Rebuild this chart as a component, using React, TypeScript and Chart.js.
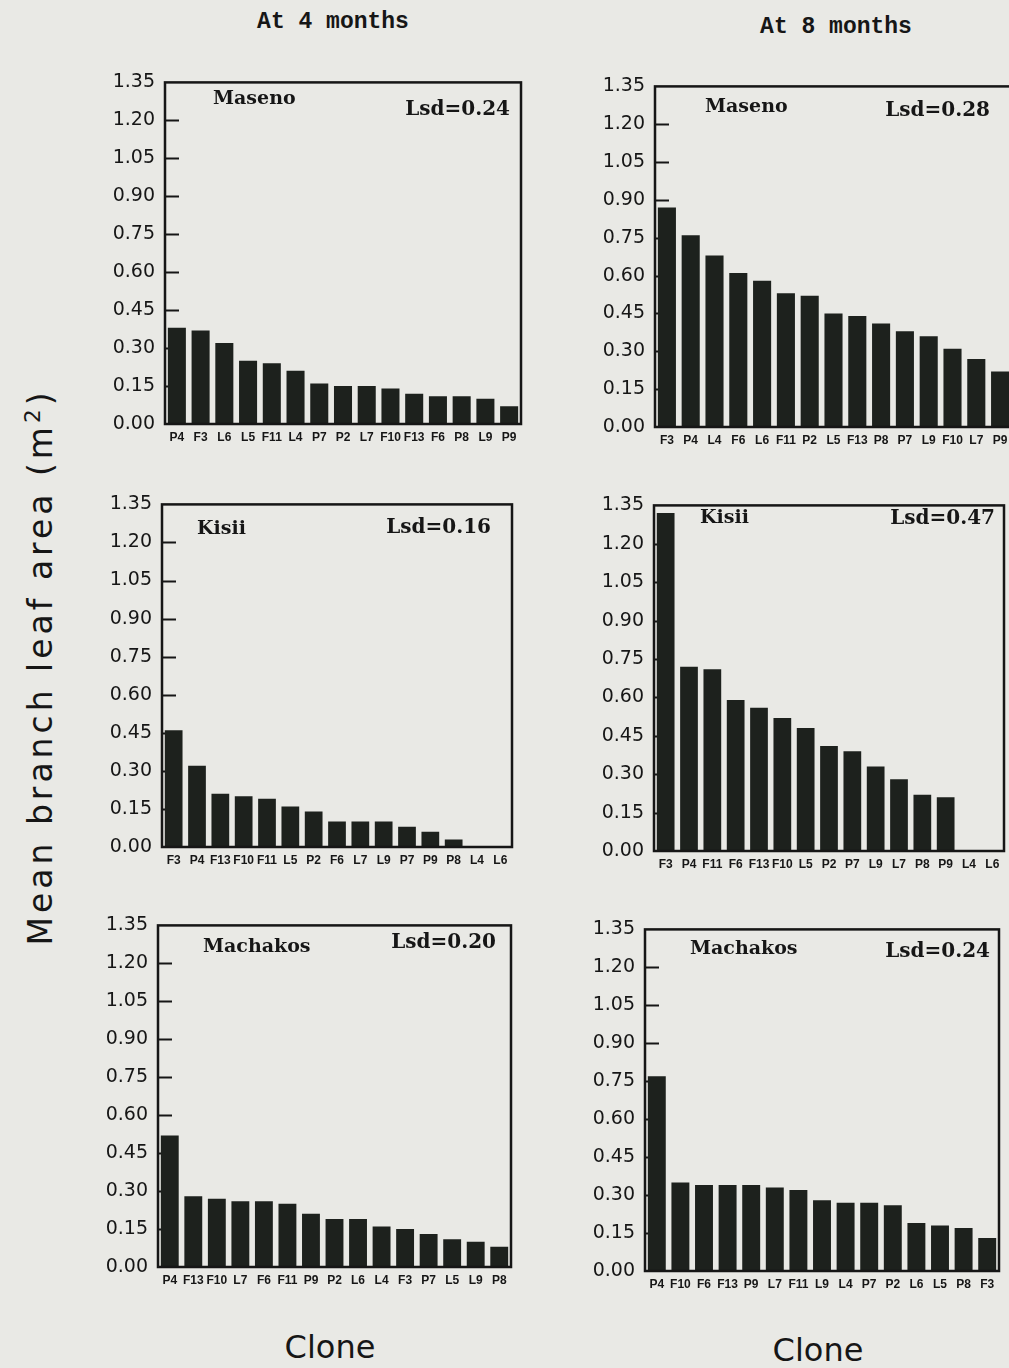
import React, { useEffect, useRef } from "react";
import { Chart, registerables } from "chart.js";

Chart.register(...registerables);

// ---------- data ----------
const yTickValues = [0, 0.15, 0.3, 0.45, 0.6, 0.75, 0.9, 1.05, 1.2, 1.35];

const maseno4Clones = ["P4", "F3", "L6", "L5", "F11", "L4", "P7", "P2", "L7", "F10", "F13", "F6", "P8", "L9", "P9"];
const maseno4Area = [0.38, 0.37, 0.32, 0.25, 0.24, 0.21, 0.16, 0.15, 0.15, 0.14, 0.12, 0.11, 0.11, 0.1, 0.07];

const maseno8Clones = ["F3", "P4", "L4", "F6", "L6", "F11", "P2", "L5", "F13", "P8", "P7", "L9", "F10", "L7", "P9"];
const maseno8Area = [0.87, 0.76, 0.68, 0.61, 0.58, 0.53, 0.52, 0.45, 0.44, 0.41, 0.38, 0.36, 0.31, 0.27, 0.22];

const kisii4Clones = ["F3", "P4", "F13", "F10", "F11", "L5", "P2", "F6", "L7", "L9", "P7", "P9", "P8", "L4", "L6"];
const kisii4Area = [0.46, 0.32, 0.21, 0.2, 0.19, 0.16, 0.14, 0.1, 0.1, 0.1, 0.08, 0.06, 0.03, 0, 0];

const kisii8Clones = ["F3", "P4", "F11", "F6", "F13", "F10", "L5", "P2", "P7", "L9", "L7", "P8", "P9", "L4", "L6"];
const kisii8Area = [1.32, 0.72, 0.71, 0.59, 0.56, 0.52, 0.48, 0.41, 0.39, 0.33, 0.28, 0.22, 0.21, 0, 0];

const machakos4Clones = ["P4", "F13", "F10", "L7", "F6", "F11", "P9", "P2", "L6", "L4", "F3", "P7", "L5", "L9", "P8"];
const machakos4Area = [0.52, 0.28, 0.27, 0.26, 0.26, 0.25, 0.21, 0.19, 0.19, 0.16, 0.15, 0.13, 0.11, 0.1, 0.08];

const machakos8Clones = ["P4", "F10", "F6", "F13", "P9", "L7", "F11", "L9", "L4", "P7", "P2", "L6", "L5", "P8", "F3"];
const machakos8Area = [0.77, 0.35, 0.34, 0.34, 0.34, 0.33, 0.32, 0.28, 0.27, 0.27, 0.26, 0.19, 0.18, 0.17, 0.13];

const columnTitles = ["At 4 months", "At 8 months"];
const yAxisTitle = "Mean branch leaf area (m";
const xAxisTitle = "Clone";

// ---------- styles / layout ----------
const PAPER = "#e9e9e5";
const INK = "#161616";
const BAR = "#1d211d";

type PanelSpec = {
  labels: string[];
  values: number[];
  site: string;
  lsd: string;
  box: [number, number, number, number]; // left, top, right, bottom (page px)
  siteAt: [number, number]; // left x, centre y
  lsdAt: [number, number]; // right x, centre y
};

const panels: PanelSpec[] = [
  { labels: maseno4Clones, values: maseno4Area, site: "Maseno", lsd: "Lsd=0.24", box: [165, 75, 521, 424], siteAt: [213, 99], lsdAt: [510, 110] },
  { labels: maseno8Clones, values: maseno8Area, site: "Maseno", lsd: "Lsd=0.28", box: [655, 79, 1012, 427], siteAt: [705, 107], lsdAt: [990, 111] },
  { labels: kisii4Clones, values: kisii4Area, site: "Kisii", lsd: "Lsd=0.16", box: [162, 497, 512, 847], siteAt: [197, 529], lsdAt: [491, 528] },
  { labels: kisii8Clones, values: kisii8Area, site: "Kisii", lsd: "Lsd=0.47", box: [654, 498, 1004, 851], siteAt: [700, 518], lsdAt: [995, 519] },
  { labels: machakos4Clones, values: machakos4Area, site: "Machakos", lsd: "Lsd=0.20", box: [158, 918, 511, 1267], siteAt: [203, 947], lsdAt: [496, 943] },
  { labels: machakos8Clones, values: machakos8Area, site: "Machakos", lsd: "Lsd=0.24", box: [645, 922, 999, 1271], siteAt: [690, 949], lsdAt: [990, 952] },
];

const PAD_L = 72;
const PAD_T = 14;
const PAD_R = 6;
const PAD_B = 32;

function BarPanel({ p }: { p: PanelSpec }) {
  const ref = useRef<HTMLCanvasElement | null>(null);
  const [L, T, R, B] = p.box;
  const cw = R - L + PAD_L + PAD_R;
  const ch = B - T + PAD_T + PAD_B;
  const ox = L - PAD_L;
  const oy = T - PAD_T;

  useEffect(() => {
    if (!ref.current) return;
    const frame = {
      id: "frame",
      beforeDatasetsDraw(chart: any) {
        const { ctx, chartArea } = chart;
        const ys = chart.scales.y;
        ctx.save();
        ctx.strokeStyle = INK;
        ctx.lineWidth = 2;
        for (const v of yTickValues) {
          if (v <= 0 || v >= 1.35) continue;
          const y = Math.round(ys.getPixelForValue(v)) + 0.5;
          ctx.beginPath();
          ctx.moveTo(chartArea.left, y);
          ctx.lineTo(chartArea.left + 14, y);
          ctx.stroke();
        }
        ctx.restore();
      },
      afterDatasetsDraw(chart: any) {
        const { ctx, chartArea } = chart;
        ctx.save();
        ctx.strokeStyle = INK;
        ctx.lineWidth = 2.5;
        ctx.strokeRect(chartArea.left, chartArea.top, chartArea.right - chartArea.left, chartArea.bottom - chartArea.top);
        ctx.fillStyle = INK;
        ctx.textBaseline = "middle";
        ctx.font = "bold 19px 'DejaVu Serif'";
        ctx.textAlign = "left";
        ctx.fillText(p.site, p.siteAt[0] - ox, p.siteAt[1] - oy);
        ctx.font = "bold 20px 'DejaVu Serif'";
        ctx.textAlign = "right";
        ctx.fillText(p.lsd, p.lsdAt[0] - ox, p.lsdAt[1] - oy);
        ctx.restore();
      },
    };

    const chart = new Chart(ref.current, {
      type: "bar",
      data: {
        labels: p.labels,
        datasets: [
          {
            data: p.values,
            backgroundColor: BAR,
            borderWidth: 0,
            barPercentage: 0.76,
            categoryPercentage: 1,
          },
        ],
      },
      options: {
        responsive: false,
        animation: false,
        devicePixelRatio: 1,
        layout: { padding: { top: PAD_T, right: PAD_R, left: 0, bottom: 0 } },
        plugins: { legend: { display: false }, tooltip: { enabled: false } },
        scales: {
          x: {
            grid: { display: false, drawTicks: false },
            border: { display: false },
            ticks: {
              autoSkip: false,
              maxRotation: 0,
              minRotation: 0,
              padding: 6,
              color: INK,
              font: { family: "'Liberation Sans', Arial, sans-serif", size: 12, weight: "bold" },
            },
            afterFit: (s: any) => {
              s.height = PAD_B;
            },
          },
          y: {
            min: 0,
            max: 1.35,
            grid: { display: false, drawTicks: false },
            border: { display: false },
            afterBuildTicks: (s: any) => {
              s.ticks = yTickValues.map((v) => ({ value: v }));
            },
            ticks: {
              padding: 10,
              color: INK,
              font: { family: "'DejaVu Sans', sans-serif", size: 19 },
              callback: (v: any) => Number(v).toFixed(2),
            },
            afterFit: (s: any) => {
              s.width = PAD_L;
            },
          },
        },
      } as any,
      plugins: [frame],
    });
    return () => chart.destroy();
  }, []);

  return (
    <canvas
      ref={ref}
      width={cw}
      height={ch}
      style={{ position: "absolute", left: ox, top: oy, width: cw, height: ch }}
    />
  );
}

export default function App() {
  return (
    <div
      style={{
        position: "absolute",
        left: 0,
        top: 0,
        width: 1009,
        height: 1368,
        background: PAPER,
        overflow: "hidden",
        color: INK,
      }}
    >
      <div
        style={{
          position: "absolute",
          left: 333,
          top: 22,
          transform: "translate(-50%, -50%)",
          font: "bold 23px 'Liberation Mono', monospace",
          whiteSpace: "nowrap",
        }}
      >
        {columnTitles[0]}
      </div>
      <div
        style={{
          position: "absolute",
          left: 836,
          top: 27,
          transform: "translate(-50%, -50%)",
          font: "bold 23px 'Liberation Mono', monospace",
          whiteSpace: "nowrap",
        }}
      >
        {columnTitles[1]}
      </div>
      <div
        style={{
          position: "absolute",
          left: 40,
          top: 667,
          transform: "translate(-50%, -50%) rotate(-90deg)",
          font: "33px 'DejaVu Sans', sans-serif",
          letterSpacing: "4px",
          whiteSpace: "nowrap",
        }}
      >
        {yAxisTitle}
        <sup style={{ fontSize: "0.65em" }}>2</sup>)
      </div>
      <div
        style={{
          position: "absolute",
          left: 330,
          top: 1347,
          transform: "translate(-50%, -50%)",
          font: "32px 'DejaVu Sans', sans-serif",
          whiteSpace: "nowrap",
        }}
      >
        {xAxisTitle}
      </div>
      <div
        style={{
          position: "absolute",
          left: 818,
          top: 1350,
          transform: "translate(-50%, -50%)",
          font: "32px 'DejaVu Sans', sans-serif",
          whiteSpace: "nowrap",
        }}
      >
        {xAxisTitle}
      </div>
      {panels.map((p, i) => (
        <BarPanel key={i} p={p} />
      ))}
    </div>
  );
}
